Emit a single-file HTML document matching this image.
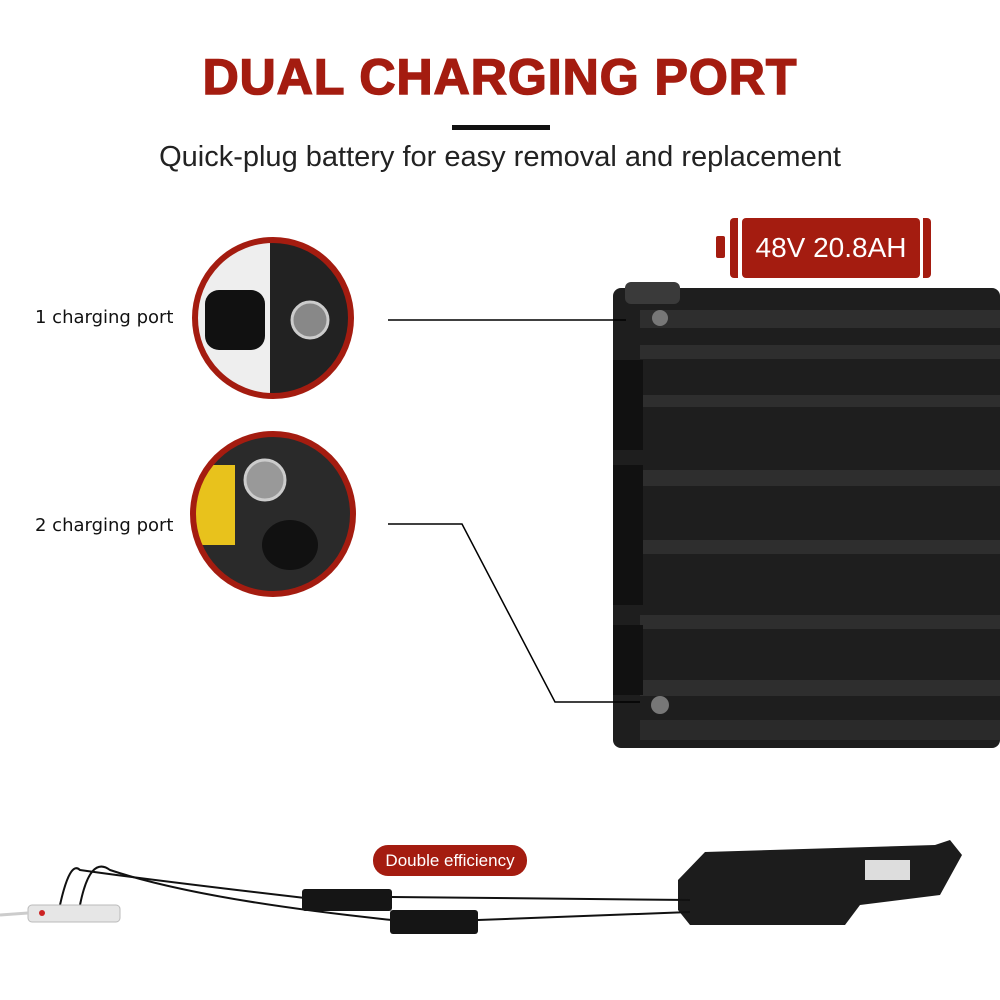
<!DOCTYPE html>
<html><head><meta charset="utf-8"><style>
html,body{margin:0;padding:0;background:#fff;}
body{width:1000px;height:1000px;position:relative;overflow:hidden;font-family:"Liberation Sans",sans-serif;}
.a{position:absolute;}
</style></head><body>
<div class="a" style="left:0;top:48px;width:1000px;text-align:center;font-size:50px;font-weight:900;color:#a41c10;letter-spacing:1px;-webkit-text-stroke:1.5px #a41c10;">DUAL CHARGING PORT</div>
<div class="a" style="left:452px;top:125px;width:98px;height:5px;background:#111;"></div>
<div class="a" style="left:0;top:141px;width:1000px;text-align:center;font-size:29px;color:#222;">Quick-plug battery for easy removal and replacement</div>

<div class="a" style="left:716px;top:236px;width:9px;height:22px;background:#a41c10;border-radius:2px;"></div>
<div class="a" style="left:730px;top:218px;width:8px;height:60px;background:#a41c10;border-radius:4px 0 0 4px;"></div>
<div class="a" style="left:742px;top:218px;width:178px;height:60px;background:#a41c10;border-radius:4px;color:#fff;font-size:28px;line-height:60px;text-align:center;">48V 20.8AH</div>
<div class="a" style="left:923px;top:218px;width:8px;height:60px;background:#a41c10;border-radius:0 4px 4px 0;"></div>

<svg class="a" style="left:0;top:0" width="1000" height="1000">
 <defs>
  <clipPath id="c1"><circle cx="273" cy="318" r="78"/></clipPath>
  <clipPath id="c2"><circle cx="273" cy="514" r="80"/></clipPath>
 </defs>
 <rect x="613" y="288" width="387" height="460" rx="8" fill="#1e1e1e"/>
 <rect x="625" y="282" width="55" height="22" rx="6" fill="#3a3a3a"/>
 <g fill="#2e2e2e">
  <rect x="640" y="310" width="360" height="18"/>
  <rect x="640" y="345" width="360" height="14"/>
  <rect x="640" y="395" width="360" height="12"/>
  <rect x="640" y="470" width="360" height="16"/>
  <rect x="640" y="540" width="360" height="14"/>
  <rect x="640" y="615" width="360" height="14"/>
  <rect x="640" y="680" width="360" height="16"/>
 </g>
 <rect x="613" y="360" width="30" height="90" fill="#111"/>
 <rect x="613" y="465" width="30" height="140" fill="#111"/>
 <rect x="613" y="625" width="30" height="70" fill="#111"/>
 <circle cx="660" cy="318" r="8" fill="#777"/>
 <circle cx="660" cy="705" r="9" fill="#777"/>
 <rect x="640" y="720" width="360" height="20" fill="#2a2a2a"/>
 <g clip-path="url(#c1)">
  <rect x="190" y="235" width="170" height="170" fill="#222"/>
  <rect x="190" y="235" width="80" height="170" fill="#eee"/>
  <rect x="205" y="290" width="60" height="60" rx="14" fill="#111"/>
  <circle cx="310" cy="320" r="18" fill="#888" stroke="#ccc" stroke-width="3"/>
 </g>
 <circle cx="273" cy="318" r="78" fill="none" stroke="#a41c10" stroke-width="6"/>
 <g clip-path="url(#c2)">
  <rect x="190" y="430" width="170" height="170" fill="#2a2a2a"/>
  <rect x="190" y="465" width="45" height="80" fill="#e8c21c"/>
  <circle cx="265" cy="480" r="20" fill="#999" stroke="#ccc" stroke-width="3"/>
  <ellipse cx="290" cy="545" rx="28" ry="25" fill="#111"/>
 </g>
 <circle cx="273" cy="514" r="80" fill="none" stroke="#a41c10" stroke-width="6"/>
 <line x1="388" y1="320" x2="626" y2="320" stroke="#000" stroke-width="1.5"/>
 <polyline points="388,524 462,524 555,702 640,702" fill="none" stroke="#000" stroke-width="1.5"/>
 <path d="M678 880 L705 852 L935 845 L950 840 L962 855 L940 895 L860 905 L845 925 L690 925 L678 910 Z" fill="#1c1c1c"/>
 <rect x="865" y="860" width="45" height="20" fill="#ddd"/>
 <path d="M60 905 Q70 860 80 870 Q150 880 305 898" fill="none" stroke="#111" stroke-width="2"/>
 <path d="M80 905 Q90 855 110 870 Q200 900 392 920" fill="none" stroke="#111" stroke-width="2"/>
 <line x1="392" y1="897" x2="690" y2="900" stroke="#111" stroke-width="2"/>
 <line x1="478" y1="920" x2="690" y2="912" stroke="#111" stroke-width="2"/>
 <rect x="302" y="889" width="90" height="22" rx="3" fill="#151515"/>
 <rect x="390" y="910" width="88" height="24" rx="3" fill="#151515"/>
 <rect x="28" y="905" width="92" height="17" rx="4" fill="#e6e6e6" stroke="#bbb"/>
 <path d="M0 915 L28 913" stroke="#ccc" stroke-width="3"/>
 <circle cx="42" cy="913" r="3" fill="#c22"/>
</svg>

<div class="a" style="left:35px;top:307px;font-size:18px;color:#111;font-family:'DejaVu Sans',sans-serif;">1 charging port</div>
<div class="a" style="left:35px;top:515px;font-size:18px;color:#111;font-family:'DejaVu Sans',sans-serif;">2 charging port</div>
<div class="a" style="left:373px;top:845px;width:154px;height:31px;background:#a41c10;border-radius:15px;color:#fff;font-size:17px;line-height:31px;text-align:center;">Double efficiency</div>
</body></html>
